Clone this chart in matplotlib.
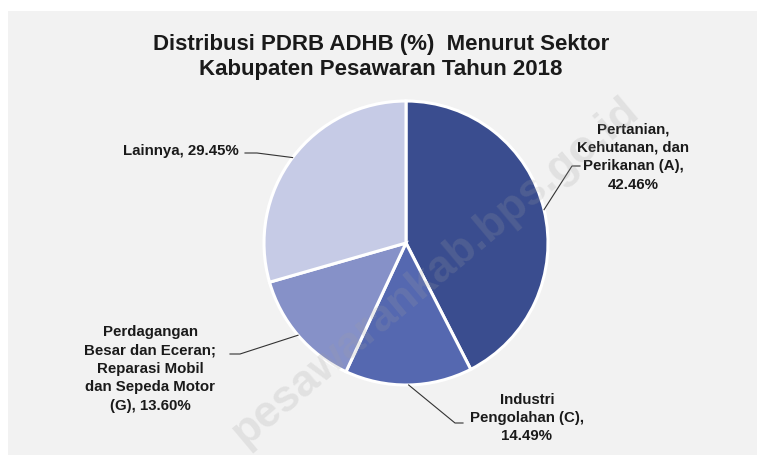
import matplotlib
matplotlib.use("Agg")
import matplotlib.pyplot as plt
from matplotlib.patches import Rectangle
import numpy as np

title = "Distribusi PDRB ADHB (%)  Menurut Sektor\nKabupaten Pesawaran Tahun 2018"
sectors = ["Pertanian,\nKehutanan, dan\nPerikanan (A),",
           "Industri\nPengolahan (C),",
           "Perdagangan\nBesar dan Eceran;\nReparasi Mobil\ndan Sepeda Motor\n(G),",
           "Lainnya,"]
shares = [42.46, 14.49, 13.60, 29.45]
colors = ["#3A4D8F", "#5568B0", "#8691C8", "#C6CBE6"]

W, H = 757, 457

def py(y):
    # image pixel row -> data y
    return H - y

fig = plt.figure(figsize=(W / 100, H / 100), dpi=100)
fig.patch.set_facecolor("white")
ax = fig.add_axes([0, 0, 1, 1])

ax.add_patch(Rectangle((8, py(455)), W - 8, 444, facecolor="#F2F2F2",
                       edgecolor="none", zorder=0))

cx, cy, r = 406, py(243), 142
wedges, _ = ax.pie(shares, colors=colors, startangle=90, counterclock=False,
                   center=(cx, cy), radius=r, frame=True,
                   wedgeprops=dict(edgecolor="white", linewidth=2.2, zorder=2))
ax.set_xlim(0, W)
ax.set_ylim(0, H)
ax.set_aspect("equal")
ax.axis("off")

# label centre, elbow of leader line, end of its short horizontal tick
label_pos = [(633, 157), (527, 418), (150, 369), (181, 151)]
elbows = [((572, 166), (580, 166)),
          ((455, 423), (463, 423)),
          ((240, 354), (230, 354)),
          ((257, 153), (245, 153))]

for w, name, val, (lx, ly), (e1, e2) in zip(wedges, sectors, shares, label_pos, elbows):
    mid = np.deg2rad((w.theta1 + w.theta2) / 2)
    sx = cx + r * np.cos(mid)
    sy = cy + r * np.sin(mid)
    if name.startswith(("Perdagangan", "Lainnya")):
        txt = f"{name} {val:.2f}%"
    else:
        txt = f"{name}\n{val:.2f}%"
    ax.plot([sx, e1[0], e2[0]], [sy, py(e1[1]), py(e2[1])],
            color="#333333", lw=0.8, zorder=3)
    ax.text(lx, py(ly), txt, ha="center", va="center", fontsize=10.8,
            fontweight="bold", color="#1A1A1A", linespacing=1.4,
            family=["Liberation Sans", "DejaVu Sans"], zorder=4)

ax.text(381, py(57), title, ha="center", va="center", fontsize=16,
        fontweight="bold", color="#1A1A1A", linespacing=1.3,
        family=["Liberation Sans Narrow", "Liberation Sans", "DejaVu Sans"], zorder=4)

# watermark
ax.text(435, py(272), "pesawarankab.bps.go.id", rotation=40, ha="center",
        va="center", fontsize=32, fontweight="bold", color="#A0A0A0",
        alpha=0.2, family=["Liberation Sans", "DejaVu Sans"], zorder=5)

fig.savefig("out.png", dpi=100, facecolor="white")
